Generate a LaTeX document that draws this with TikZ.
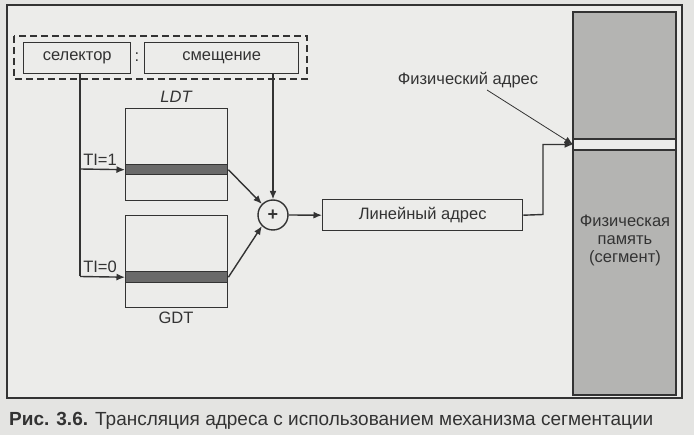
\documentclass[tikz,border=0pt]{standalone}
\usepackage{fontspec}
\setmainfont{Liberation Sans}
\usetikzlibrary{arrows.meta,calc}
\definecolor{paper}{HTML}{E4E4E2}
\definecolor{inner}{HTML}{ECECEA}
\definecolor{ink}{HTML}{333333}
\definecolor{bar}{HTML}{6A6A6A}
\definecolor{mem}{HTML}{B4B4B2}
\tikzset{
  ln/.style={draw=ink,line width=1.4pt},
  arr/.style={ln,-{Latex[length=8.5pt,width=7pt]}},
  boxn/.style={ln,fill=inner,inner sep=0pt,anchor=north west},
  lbl/.style={font=\fontsize{16.5}{16.5}\selectfont,text=ink,inner sep=1pt},
}
\begin{document}
\begin{tikzpicture}[x=1pt,y=-1pt]
\useasboundingbox[fill=paper] (0,0) rectangle (694,435);
% outer frame
\draw[ln,fill=inner] (7,5) rectangle (682,398);
% dashed frame
\draw[ln,dashed,dash pattern=on 7pt off 4pt] (14,36) rectangle (307,79);
\node[boxn,minimum width=107pt,minimum height=31pt] (sel) at (23,42) {};
\node[lbl] at (sel.center) {селектор};
\node[lbl] (colon) at (137,57) {:};
\node[boxn,minimum width=154pt,minimum height=31pt] (off) at (144,42) {};
\node[lbl] at (off.center) {смещение};
% LDT
\node[boxn,minimum width=102pt,minimum height=92pt] (ldt) at (125,108) {};
\node[draw=ink,line width=1.4pt,fill=bar,inner sep=0pt,minimum width=102pt,minimum height=10pt,anchor=north west] (ldtbar) at (125,164) {};
\node[lbl,font=\fontsize{16.5}{16.5}\selectfont\itshape] (ldtl) at (176,97) {LDT};
% GDT
\node[boxn,minimum width=102pt,minimum height=92pt] (gdt) at (125,215) {};
\node[draw=ink,line width=1.4pt,fill=bar,inner sep=0pt,minimum width=102pt,minimum height=11pt,anchor=north west] (gdtbar) at (125,271) {};
\node[lbl] (gdtl) at (176,318) {GDT};
% plus
\node[ln,circle,fill=inner,minimum size=30pt,inner sep=0pt,font=\fontsize{18}{18}\selectfont\bfseries,text=ink] (plus) at (273,215) {+};
% linear
\node[boxn,minimum width=200pt,minimum height=31pt] (lin) at (322,199) {};
\node[lbl] at (lin.center) {Линейный адрес};
% memory
\fill[mem] (573,12) rectangle (676,395);
\fill[inner] (573,139) rectangle (676,150);
\draw[ln] (573,12) rectangle (676,395);
\draw[ln] (573,139) -- (676,139) (573,150) -- (676,150);
\coordinate (slot) at (573,144.5);
\node[lbl,align=center,font=\fontsize{16.5}{18}\selectfont] (meml) at (625,240) {Физическая\\память\\(сегмент)};
\node[lbl] (phys) at (468,80) {Физический адрес};
% connectors
\coordinate (s0) at (80,73);
\coordinate (t1) at (80,169);
\coordinate (t0) at (80,276.5);
\draw[ln] (s0) -- (t0);
\draw[arr] (t1) -- (ldtbar.west);
\draw[arr] (t0) -- (gdtbar.west);
\node[lbl,anchor=south] at (100,167) {TI=1};
\node[lbl,anchor=south] at (100,274) {TI=0};
\draw[arr] (273,73) -- (plus.north);
\draw[arr] (ldtbar.east) -- (plus.135);
\draw[arr] (gdtbar.east) -- (plus.225);
\draw[arr] (plus.east) -- (lin.west);
\draw[arr] (lin.east) -- (543,214.5) -- (543,144.5) -- (slot);
\draw[ink,line width=0.8pt,-{Latex[length=8.5pt,width=7pt]}] (487,90) -- (slot);
% caption
\node[anchor=west,inner sep=0pt,text=ink,font=\fontsize{19}{19}\selectfont] (cap) at (9,421) {\textbf{Рис. 3.6.} Трансляция адреса с использованием механизма сегментации};
\end{tikzpicture}
\end{document}
